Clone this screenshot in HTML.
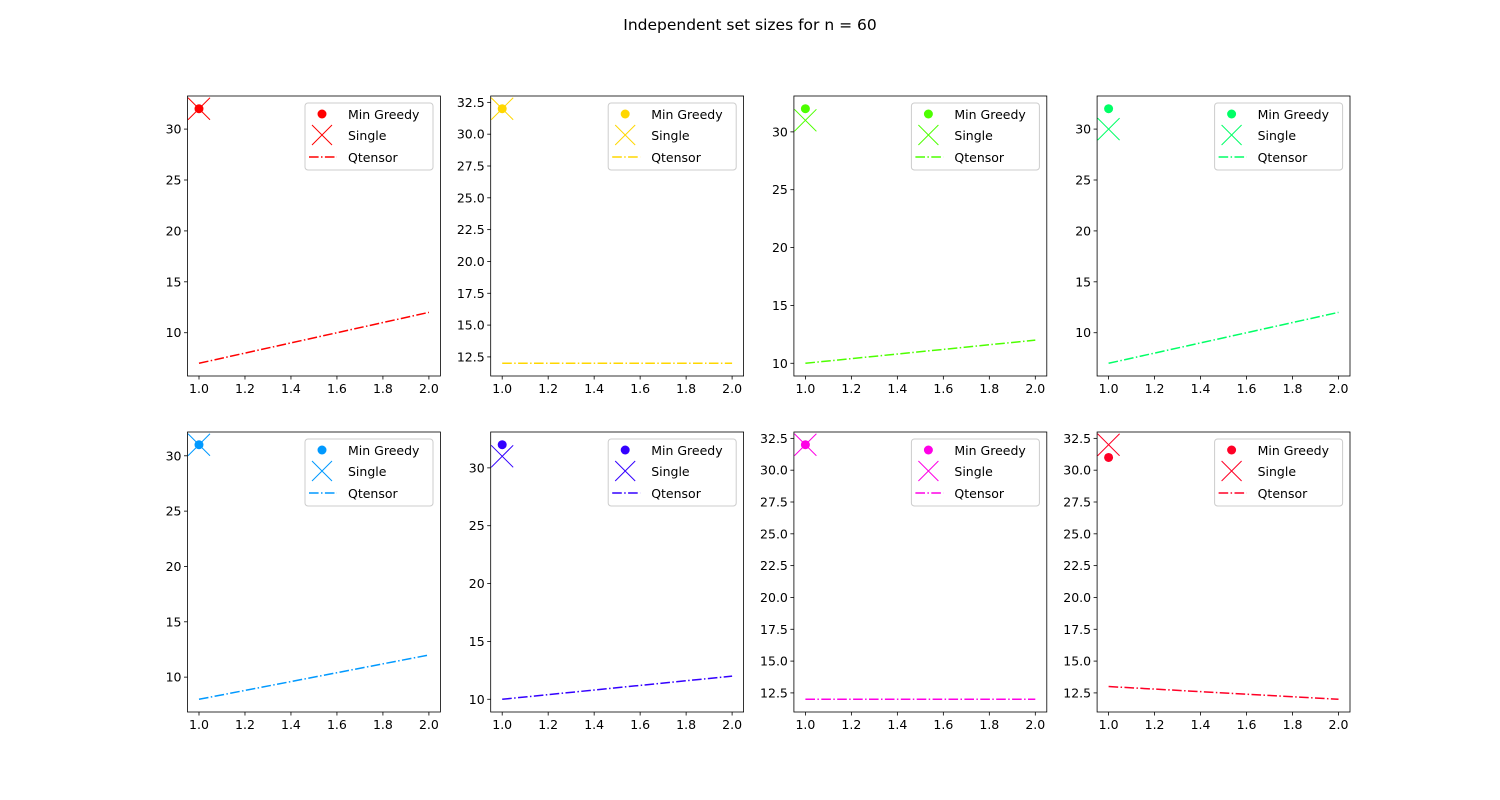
<!DOCTYPE html>
<html><head><meta charset="utf-8"><style>
body{margin:0;background:#fff}
svg{display:block;font-family:"DejaVu Sans","Liberation Sans",sans-serif}
</style></head><body>
<svg id="fig" width="1500" height="800" viewBox="0 0 1500 800">
<rect width="1500" height="800" fill="#fff"/>
<text x="750" y="30" font-size="15.5" text-anchor="middle">Independent set sizes for n = 60</text>
</svg>
<script>
const colors=["#ff0000","#ffd700","#4dff00","#00ff66","#0099ff","#3300ff","#ff00e6","#ff0026"];
const lineStart=[7,12,10,7,8,10,12,13];
const lineEnd=[12,12,12,12,12,12,12,12];
const greedy=[32,32,32,32,31,32,32,31];
const single=[32,32,31,30,31,31,32,32];
const xTicks=[1.0,1.2,1.4,1.6,1.8,2.0];
const yTicksA=[10,15,20,25,30];
const yTicksB=[12.5,15.0,17.5,20.0,22.5,25.0,27.5,30.0,32.5];
const NS="http://www.w3.org/2000/svg";
const svg=document.getElementById('fig');
function mk(tag,attrs,parent){const e=document.createElementNS(NS,tag);for(const k in attrs)e.setAttribute(k,attrs[k]);(parent||svg).appendChild(e);return e;}
const lefts=[187.5,490.7,793.9,1097.1], W=252.9, H=280, tops=[96,432];
for(let i=0;i<8;i++){
  const L=lefts[i%4], T=tops[Math.floor(i/4)], c=colors[i];
  const g=mk('g',{});
  
  
  const vals=[lineStart[i],lineEnd[i],greedy[i],single[i]];
  const lo=Math.min(...vals),hi=Math.max(...vals),m=(hi-lo)*0.05;
  const y0=lo-m,y1=hi+m;
  const sx=v=>L+(v-0.95)/1.1*W, sy=v=>T+H-(v-y0)/(y1-y0)*H;
  const yt=(hi-lo)<=20?yTicksB:yTicksA;
  xTicks.forEach(t=>{const x=sx(t);mk('line',{x1:x,x2:x,y1:T+H,y2:T+H+3.5,stroke:'#000','stroke-width':0.8},g);
    const tx=mk('text',{x:x,y:T+H+17,'font-size':12.5,'text-anchor':'middle'},g);tx.textContent=t.toFixed(1);
    
    });
  yt.forEach(t=>{if(t<y0||t>y1)return;const y=sy(t);mk('line',{x1:L-3.5,x2:L,y1:y,y2:y,stroke:'#000','stroke-width':0.8},g);
    const tx=mk('text',{x:L-6,y:y+4.5,'font-size':12.5,'text-anchor':'end'},g);tx.textContent=(yt===yTicksB?t.toFixed(1):String(t));
    
    });
  const cp=mk('clipPath',{id:'cp'+i},g);mk('rect',{x:L,y:T,width:W,height:H},cp);
  const pg=mk('g',{'clip-path':'url(#cp'+i+')'},g);
  const ln=mk('line',{x1:sx(1),y1:sy(lineStart[i]),x2:sx(2),y2:sy(lineEnd[i]),stroke:c,'stroke-width':1.5,'stroke-dasharray':'9.6 2.4 1.5 2.4'},pg);
  
  
  const gx=sx(1),gy=sy(greedy[i]);
  const dot=mk('circle',{cx:gx,cy:gy,r:4.5,fill:c},pg);
  
  
  const syv=sy(single[i]);
  const xm=mk('path',{d:`M${gx-11} ${syv-11}L${gx+11} ${syv+11}M${gx-11} ${syv+11}L${gx+11} ${syv-11}`,stroke:c,'stroke-width':1,fill:'none'},pg);
  
  
  mk('rect',{x:L,y:T,width:W,height:H,fill:'none',stroke:'#000','stroke-width':0.8},g);
  const lg=mk('g',{},g);
  
  
  const lx=L+117.5,ly=T+7;
  mk('rect',{x:lx,y:ly,width:128,height:67,rx:3,fill:'#fff','fill-opacity':0.8,stroke:'#ccc','stroke-width':1},lg);
  const names=['Min Greedy','Single','Qtensor'];
  [18,39,61].forEach((dy,k)=>{const y=ly+dy-7;
    if(k===0)mk('circle',{cx:lx+17,cy:y,r:4.5,fill:c},lg);
    if(k===1)mk('path',{d:`M${lx+7} ${y-10}L${lx+27} ${y+10}M${lx+7} ${y+10}L${lx+27} ${y-10}`,stroke:c,'stroke-width':1},lg);
    if(k===2)mk('line',{x1:lx+4,x2:lx+32,y1:y,y2:y,stroke:c,'stroke-width':1.5,'stroke-dasharray':'9.6 2.4 1.5 2.4'},lg);
    const t=mk('text',{x:lx+43,y:y+5,'font-size':12.5},lg);t.textContent=names[k];
    
    });
}
</script>
</body></html>
